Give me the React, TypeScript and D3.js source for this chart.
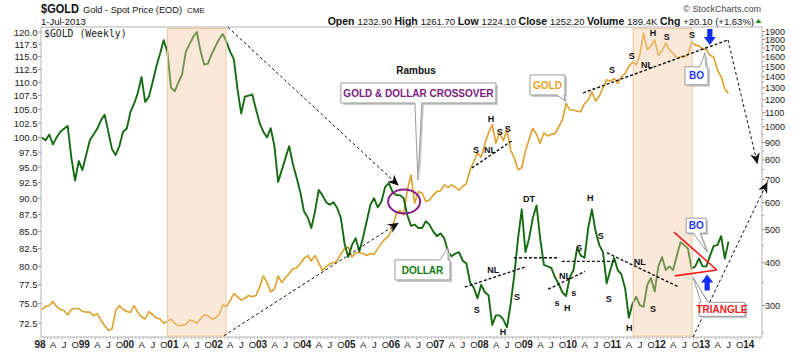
import * as d3 from 'd3';
import React from 'react';

const dollar = [
  100.0, 99.5, 100.5, 98.8, 100.0, 101.0, 101.5, 102.0, 96.5, 92.8, 96.0, 94.5,
  97.0, 99.5, 100.5, 101.5, 103.0, 104.0, 101.0, 98.0, 97.0, 98.5, 101.0, 101.5,
  104.5, 106.0, 108.0, 111.0, 106.3, 107.3, 110.0, 113.0, 115.5, 118.3, 116.0, 109.0,
  108.3, 110.0, 111.5, 116.0, 117.5, 119.0, 120.0, 116.0, 113.4, 113.6, 115.5, 117.0,
  118.5, 119.6, 118.0, 116.0, 114.5, 108.7, 104.2, 107.3, 107.5, 107.7, 105.0, 102.5,
  101.0, 100.0, 101.6, 98.5, 92.6, 94.5, 96.5, 98.5, 95.5, 93.3, 91.0, 88.0,
  87.1, 85.5, 88.0, 91.3, 90.5, 89.4, 89.0, 89.4, 88.5, 87.0, 83.2, 81.3,
  83.0, 84.0, 82.1, 84.1, 86.5, 89.0, 90.0, 88.6, 89.5, 91.8, 92.4, 91.0,
  90.5, 90.5, 90.0, 87.4, 85.8, 86.0, 85.5, 85.5, 86.5, 86.0, 85.0, 84.3,
  84.7, 84.0, 82.1, 81.4, 81.8, 82.0, 80.8, 80.4, 77.8, 77.1, 75.7, 77.5,
  76.5, 76.1, 72.3, 73.5, 73.5, 73.0, 72.0, 75.0, 78.9, 84.0, 88.3, 82.0,
  84.0, 87.0, 88.9, 83.9, 80.2, 80.0, 79.8, 78.5, 77.6, 76.5, 76.0, 78.5,
  79.5, 82.6, 81.5, 81.2, 85.5, 88.3, 85.0, 83.0, 82.0, 77.7, 79.5, 81.2,
  79.5, 78.9, 77.0, 73.2, 75.0, 75.9, 74.8, 74.6, 77.5, 78.4, 76.6, 80.0,
  81.3, 79.5, 80.0, 79.5, 81.5, 83.4, 83.0, 82.5, 79.7, 80.0, 81.1, 80.0,
  80.0, 81.5, 82.9, 83.0, 84.3, 81.1, 83.5,
];
const gold = [
  292, 298, 300, 308, 298, 292, 290, 282, 292, 294, 294, 288,
  287, 287, 280, 284, 272, 262, 254, 256, 290, 300, 292, 288,
  286, 300, 286, 278, 274, 288, 282, 276, 274, 266, 270, 274,
  266, 262, 262, 264, 272, 270, 266, 274, 282, 280, 274, 276,
  282, 301, 298, 310, 325, 318, 311, 315, 321, 318, 321, 340,
  366, 350, 329, 335, 366, 350, 362, 372, 384, 386, 398, 412,
  420, 405, 420, 400, 379, 390, 397, 400, 405, 425, 440, 445,
  416, 428, 428, 426, 420, 426, 424, 440, 456, 470, 480, 509,
  556, 570, 552, 653, 722, 598, 646, 640, 605, 611, 630, 646,
  650, 676, 665, 676, 665, 653, 670, 682, 749, 790, 840, 815,
  890, 960, 1014, 895, 960, 910, 981, 855, 810, 748, 760, 850,
  920, 990, 950, 895, 960, 940, 950, 955, 1000, 1047, 1170, 1120,
  1120, 1110, 1107, 1170, 1198, 1265, 1190, 1230, 1300, 1372, 1360, 1385,
  1340, 1400, 1430, 1500, 1545, 1520, 1630, 1876, 1680, 1720, 1795, 1620,
  1665, 1758, 1680, 1640, 1590, 1605, 1600, 1621, 1771, 1733, 1725, 1690,
  1680, 1620, 1600, 1467, 1400, 1290, 1252,
];
const leftTicks = [72.5, 75, 77.5, 80, 82.5, 85, 87.5, 90, 92.5, 95, 97.5, 100, 102.5, 105, 107.5, 110, 112.5, 115, 117.5, 120];
const rightTicks = [300, 400, 500, 600, 700, 800, 900, 1000, 1100, 1200, 1300, 1400, 1500, 1600, 1700, 1800, 1900];
const years = d3.range(1998, 2015);
const quarterLetters = ['A', 'J', 'O'];
const shaded = [[2000.88, 2002.2], [2011.39, 2012.72]];

// annotations: [decimal year, value, text]
const goldMarks = [
  [2007.84, 855, 'S'], [2008.16, 855, 'NL'], [2008.18, 1054, 'H'], [2008.38, 965, 'S'], [2008.56, 985, 'S'],
  [2010.91, 1467, 'S'], [2011.36, 1612, 'S'], [2011.84, 1883, 'H'], [2012.15, 1831, 'S'], [2012.72, 1857, 'S'],
  [2011.70, 1517, 'NL'],
];
const dollarMarks = [
  [2009.04, 89.9, 'DT'], [2010.42, 90.05, 'H'], [2010.66, 84.3, 'S'], [2010.17, 82.6, 'S'], [2008.23, 79.6, 'NL'],
  [2007.86, 74.2, 'S'], [2008.77, 75.9, 'S'], [2009.85, 78.7, 'NL'], [2009.67, 75.1, 's'], [2009.9, 74.5, 'H'],
  [2010.05, 76.5, 's'], [2010.84, 75.7, 'S'], [2011.54, 80.6, 'NL'], [2011.30, 72.0, 'H'], [2011.84, 74.4, 'S'],
  [2008.45, 71.5, 'H'],
];
const goldNecks = [[2007.75, 758, 2008.68, 915], [2010.26, 1256, 2013.53, 1795]];
const dollarNecks = [
  [2007.59, 77.2, 2008.99, 80.0], [2008.70, 81.2, 2009.72, 81.2], [2009.78, 80.7, 2011.02, 80.7],
  [2009.47, 76.9, 2010.30, 79.3], [2010.80, 81.9, 2012.42, 77.2],
];
const dollarArrows = [[2002.24, 121.0, 2006.08, 92.1], [2002.15, 70.96, 2006.08, 86.2]];
const goldArrows = [[2013.53, 1795, 2014.19, 783], [2012.74, 242.6, 2014.41, 685]];
const triangle = [[2012.31, 84.9, 2013.28, 79.5], [2012.33, 78.7, 2013.28, 79.5]];

const font = 'Arial, "Liberation Sans", sans-serif';
const greenC = '#166b12';
const goldC = '#dea02a';

const x = d3.scaleLinear().domain([1998, 2014]).range([40, 748.8]);
const yL = d3.scaleLog().domain([72.5, 120]).range([323.3, 32]);
const yR = d3.scaleLog().domain([300, 1900]).range([305.5, 31.5]);
const monthX = (i: number) => x(1998 + (i + 0.5) / 12);

const plot = { l: 41, r: 762, t: 27, b: 337 };

function Callout({ tx, ty, box, base, text, color }: any) {
  const [x0, y0, x1, y1] = [tx + box[0], ty + box[1], tx + box[2], ty + box[3]];
  const above = y1 < ty;
  const b0 = tx + base[0], b1 = tx + base[1];
  const d = above
    ? `M${x0},${y0}H${x1}V${y1}H${b1}L${tx},${ty}L${b0},${y1}H${x0}Z`
    : `M${x0},${y0}H${b0}L${tx},${ty}L${b1},${y0}H${x1}V${y1}H${x0}Z`;
  return (
    <g>
      <path d={d} transform="translate(2,2)" fill="#c9c9c9" />
      <path d={d} fill="#fff" stroke="#9a9a9a" strokeWidth={1} />
      <text x={(x0 + x1) / 2} y={(y0 + y1) / 2 + 3.6} textAnchor="middle" fontFamily={font}
        fontWeight="bold" fontSize={10} fill={color}>{text}</text>
    </g>
  );
}

function BlockArrow({ cx, tip, dir }: any) {
  // dir 1 = pointing down, -1 = pointing up
  const s = dir;
  const pts = [
    [cx - 2.6, tip - s * 16], [cx + 2.6, tip - s * 16], [cx + 2.6, tip - s * 8],
    [cx + 6, tip - s * 8], [cx, tip], [cx - 6, tip - s * 8], [cx - 2.6, tip - s * 8],
  ];
  return <polygon points={pts.map(p => p.join(',')).join(' ')} fill="#1430f0" />;
}

export default function App() {
  const dollarLine = d3.line<number>().x((_, i) => monthX(i)).y(d => yL(d));
  const goldLine = d3.line<number>().x((_, i) => monthX(i)).y(d => yR(d));

  const quarters: { t: number; label: string; year: boolean }[] = [];
  years.forEach(yr => {
    quarters.push({ t: yr, label: String(yr).slice(2), year: true });
    if (yr < 2014) quarterLetters.forEach((q, k) => quarters.push({ t: yr + (k + 1) / 4, label: q, year: false }));
  });
  const minorRight = d3.range(250, 1950, 50).filter(v => !rightTicks.includes(v) && v > 245);

  const markText = (mx: number, my: number, t: string, key: string) => (
    <text key={key} x={mx} y={my + 3.3} textAnchor="middle" fontFamily={font} fontWeight="bold"
      fontSize={9} fill="#111">{t}</text>
  );

  return (
    <div style={{ position: 'absolute', left: 0, top: 0 }}>
      <svg width={800} height={352} style={{ display: 'block', background: '#fff' }}>
        <defs>
          <clipPath id="plotClip">
            <rect x={plot.l} y={plot.t} width={plot.r - plot.l} height={plot.b - plot.t} />
          </clipPath>
          <marker id="ah" viewBox="0 0 10 10" refX={9} refY={5} markerWidth={11} markerHeight={11}
            markerUnits="userSpaceOnUse" orient="auto">
            <path d="M0,0.5 L10,5 L0,9.5 L3,5 Z" fill="#111" />
          </marker>
        </defs>

        {/* header */}
        <text x={41} y={13} fontFamily={font} fontSize={12} fontWeight="bold" fill="#111"
          textLength={38} lengthAdjust="spacingAndGlyphs">$GOLD</text>
        <text x={83} y={13} fontFamily={font} fontSize={9.5} fill="#111"
          textLength={99} lengthAdjust="spacingAndGlyphs">Gold - Spot Price (EOD)</text>
        <text x={187} y={13} fontFamily={font} fontSize={8} fill="#111">CME</text>
        <text x={41} y={24.5} fontFamily={font} fontSize={9.5} fill="#111">1-Jul-2013</text>
        <text x={761} y={12} textAnchor="end" fontFamily={font} fontSize={9} fill="#444">© StockCharts.com</text>
        <text x={754} y={24.5} textAnchor="end" fontFamily={font} fill="#111">
          <tspan fontWeight="bold" fontSize={10.5}>Open </tspan><tspan fontSize={9.5}>1232.90 </tspan>
          <tspan fontWeight="bold" fontSize={10.5}>High </tspan><tspan fontSize={9.5}>1261.70 </tspan>
          <tspan fontWeight="bold" fontSize={10.5}>Low </tspan><tspan fontSize={9.5}>1224.10 </tspan>
          <tspan fontWeight="bold" fontSize={10.5}>Close </tspan><tspan fontSize={9.5}>1252.20 </tspan>
          <tspan fontWeight="bold" fontSize={10.5}>Volume </tspan><tspan fontSize={9.5}>189.4K </tspan>
          <tspan fontWeight="bold" fontSize={10.5}>Chg </tspan><tspan fontSize={9.5}>+20.10 (+1.63%)</tspan>
        </text>
        <polygon points="755.5,23 761.5,23 758.5,19" fill="#1c8c1c" />

        {/* frame */}
        <rect x={plot.l} y={plot.t} width={plot.r - plot.l} height={plot.b - plot.t} fill="#fff" stroke="#b4b4b4" />

        {/* left axis */}
        {leftTicks.map(v => (
          <g key={'l' + v}>
            <line x1={38} x2={plot.l} y1={yL(v)} y2={yL(v)} stroke="#999" />
            <text x={37.5} y={yL(v) + 3.5} textAnchor="end" fontFamily={font} fontSize={9.5} fill="#222">
              {d3.format('.1f')(v)}
            </text>
          </g>
        ))}
        {/* right axis */}
        {minorRight.map(v => (
          <line key={'m' + v} x1={plot.r} x2={plot.r + 2} y1={yR(v)} y2={yR(v)} stroke="#aaa" />
        ))}
        {rightTicks.map(v => (
          <g key={'r' + v}>
            <line x1={plot.r} x2={plot.r + 3.5} y1={yR(v)} y2={yR(v)} stroke="#999" />
            <text x={765} y={yR(v) + 3.3} fontFamily={font} fontSize={9} fill="#222">{v}</text>
          </g>
        ))}
        {/* bottom axis */}
        {d3.range(0, 16 * 12 + 4).map(m => (
          <line key={'bt' + m} x1={x(1998 + m / 12)} x2={x(1998 + m / 12)} y1={plot.b} y2={plot.b + (m % 3 === 0 ? 3 : 2)}
            stroke="#bbb" />
        ))}
        {quarters.map(q => (
          <text key={'q' + q.t} x={x(q.t) + (q.year ? 0 : 2)} y={347.5} textAnchor="middle" fontFamily={font}
            fontSize={q.year ? 10 : 9.5} fontWeight={q.year ? 'bold' : 'normal'} fill="#222">{q.label}</text>
        ))}

        <text x={44} y={37} fontFamily='"DejaVu Sans Mono", monospace' fontSize={9.8} fill="#222">$GOLD (Weekly)</text>

        {/* series */}
        <g clipPath="url(#plotClip)">
          <path d={goldLine(gold) || ''} fill="none" stroke={goldC} strokeWidth={1.6} strokeLinejoin="round" />
          <path d={dollarLine(dollar) || ''} fill="none" stroke={greenC} strokeWidth={1.9} strokeLinejoin="round" />
          {shaded.map(([a, b]) => (
            <rect key={'s' + a} x={x(a)} y={plot.t + 1.5} width={x(b) - x(a)} height={plot.b - plot.t - 2.5}
              fill="#f2cba5" fillOpacity={0.42} stroke="#f0c89c" strokeWidth={1} />
          ))}
        </g>

        {/* dashed necklines */}
        {goldNecks.map(([a, v, b, w], i) => (
          <line key={'gn' + i} x1={x(a)} y1={yR(v)} x2={x(b)} y2={yR(w)} stroke="#111" strokeWidth={1.4} strokeDasharray="3,2" />
        ))}
        {dollarNecks.map(([a, v, b, w], i) => (
          <line key={'dn' + i} x1={x(a)} y1={yL(v)} x2={x(b)} y2={yL(w)} stroke="#111" strokeWidth={1.4} strokeDasharray="3,2" />
        ))}
        {dollarArrows.map(([a, v, b, w], i) => (
          <line key={'da' + i} x1={x(a)} y1={yL(v)} x2={x(b)} y2={yL(w)} stroke="#111" strokeWidth={1}
            strokeDasharray="3,2.5" markerEnd="url(#ah)" />
        ))}
        {goldArrows.map(([a, v, b, w], i) => (
          <line key={'ga' + i} x1={x(a)} y1={yR(v)} x2={x(b)} y2={yR(w)} stroke="#111" strokeWidth={1}
            strokeDasharray="3,2.5" markerEnd="url(#ah)" />
        ))}
        {triangle.map(([a, v, b, w], i) => (
          <line key={'tr' + i} x1={x(a)} y1={yL(v)} x2={x(b)} y2={yL(w)} stroke="#f21b1b" strokeWidth={1.6} />
        ))}

        {/* pattern labels */}
        {goldMarks.map(([t, v, s], i) => markText(x(t as number), yR(v as number), s as string, 'gm' + i))}
        {dollarMarks.map(([t, v, s], i) => markText(x(t as number), yL(v as number), s as string, 'dm' + i))}

        {/* crossover */}
        <ellipse cx={x(2006.22)} cy={yL(89.5)} rx={16} ry={12} fill="none" stroke="#8a1a8c" strokeWidth={2} />
        <text x={416} y={74} textAnchor="middle" fontFamily={font} fontWeight="bold" fontSize={10} fill="#111">Rambus</text>

        <Callout tx={x(2006.53)} ty={yL(92.9)} box={[-77, -97, 78, -77]} base={[-3, 4]}
          text="GOLD & DOLLAR CROSSOVER" color="#7d1c80" />
        <Callout tx={x(2009.85)} ty={yR(1190)} box={[-35, -26, 0, -6]} base={[-8, -1]} text="GOLD" color="#f0a020" />
        <Callout tx={x(2013.01)} ty={yR(1646)} box={[-20, 14, 3, 32]} base={[-5, 1]} text="BO" color="#1f3cf0" />
        <Callout tx={x(2007.21)} ty={yL(82.6)} box={[-53, 12, 2, 32]} base={[-8, 0]} text="DOLLAR" color="#167a12" />
        <Callout tx={x(2013.06)} ty={yL(82.0)} box={[-21, -34, -1, -19]} base={[-14, -7]} text="BO" color="#1f3cf0" />
        <Callout tx={x(2012.74)} ty={yL(78.5)} box={[6, 25, 52, 39]} base={[8, 15]} text="TRIANGLE" color="#f21b1b" />

        <BlockArrow cx={x(2013.12)} tip={yR(1735)} dir={1} />
        <BlockArrow cx={x(2013.06)} tip={yL(78.9)} dir={-1} />
      </svg>
    </div>
  );
}
